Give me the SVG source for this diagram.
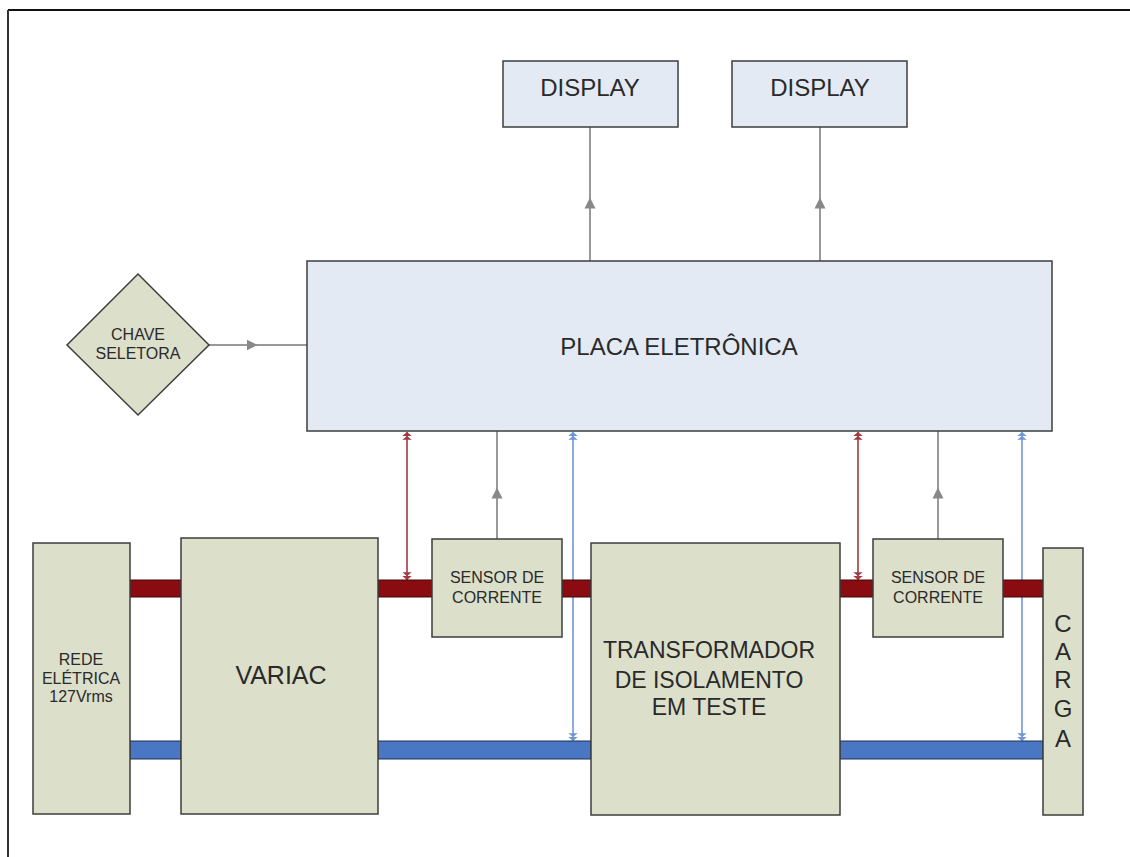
<svg xmlns="http://www.w3.org/2000/svg" width="1130" height="857" viewBox="0 0 1130 857">
<defs>
<style>
.blk{fill:#dcdfca;stroke:#3e3e3e;stroke-width:1.5}
.blu{fill:#e4eaf4;stroke:#3e3e3e;stroke-width:1.5}
.t{font-family:"Liberation Sans",Arial,sans-serif;fill:#2a2a2a;text-anchor:middle}
.gray{stroke:#999;stroke-width:2;fill:none}
.redl{stroke:#a23a40;stroke-width:1.6;fill:none}
.blul{stroke:#6f96d6;stroke-width:1.6;fill:none}
.rbar{fill:#8a0b10;stroke:#3a0a0a;stroke-width:1}
.bbar{fill:#4a77c4;stroke:#1e2f55;stroke-width:1}
</style>
<marker id="mg" viewBox="0 0 10 10" refX="5" refY="5" markerWidth="11" markerHeight="12" markerUnits="userSpaceOnUse" orient="auto">
<path d="M0,0 L10,5 L0,10 Z" fill="#888"/>
</marker>
<marker id="dr" viewBox="0 0 10 14" refX="10" refY="7" markerWidth="14" markerHeight="11" markerUnits="userSpaceOnUse" orient="auto-start-reverse">
<path d="M0,1 L5,7 L0,13 Z M5,1 L10,7 L5,13 Z" fill="#a23a40"/>
</marker>
<marker id="db" viewBox="0 0 10 14" refX="10" refY="7" markerWidth="14" markerHeight="11" markerUnits="userSpaceOnUse" orient="auto-start-reverse">
<path d="M0,1 L5,7 L0,13 Z M5,1 L10,7 L5,13 Z" fill="#6f96d6"/>
</marker>
</defs>
<rect width="1130" height="857" fill="#fff"/>
<g id="frame">
<line x1="8" y1="10" x2="1130" y2="10" stroke="#111" stroke-width="2"/>
<line x1="8" y1="10" x2="8" y2="857" stroke="#333" stroke-width="2"/>
</g>
<g id="connectors">
<polyline class="gray" points="590,261 590,203 590,127" marker-mid="url(#mg)"/>
<polyline class="gray" points="820,261 820,203 820,127" marker-mid="url(#mg)"/>
<polyline class="gray" points="209,345 252,345 307,345" marker-mid="url(#mg)"/>
<polyline class="gray" points="497,539 497,493 497,431" marker-mid="url(#mg)"/>
<polyline class="gray" points="938,539 938,493 938,431" marker-mid="url(#mg)"/>
<line class="redl" x1="407" y1="432" x2="407" y2="580" marker-start="url(#dr)" marker-end="url(#dr)"/>
<line class="redl" x1="858" y1="432" x2="858" y2="580" marker-start="url(#dr)" marker-end="url(#dr)"/>
<line class="blul" x1="573" y1="432" x2="573" y2="741" marker-start="url(#db)" marker-end="url(#db)"/>
<line class="blul" x1="1022" y1="432" x2="1022" y2="741" marker-start="url(#db)" marker-end="url(#db)"/>
<rect class="rbar" x="130" y="580" width="51" height="17"/>
<rect class="rbar" x="378" y="580" width="54" height="17"/>
<rect class="rbar" x="562" y="580" width="29" height="17"/>
<rect class="rbar" x="840" y="580" width="33" height="17"/>
<rect class="rbar" x="1003" y="580" width="40" height="17"/>
<rect class="bbar" x="130" y="741" width="51" height="18"/>
<rect class="bbar" x="378" y="741" width="213" height="18"/>
<rect class="bbar" x="840" y="741" width="203" height="18"/>
</g>
<g id="display1"><rect class="blu" x="503" y="61" width="175" height="66"/><text class="t" x="590" y="96" font-size="24">DISPLAY</text></g>
<g id="display2"><rect class="blu" x="732" y="61" width="175" height="66"/><text class="t" x="820" y="96" font-size="24">DISPLAY</text></g>
<g id="placa"><rect class="blu" x="307" y="261" width="745" height="170"/><text class="t" x="679" y="355" font-size="24">PLACA ELETRÔNICA</text></g>
<g id="chave"><polygon class="blk" points="138,274 209,345 138,415 67,345"/><text class="t" x="138" y="340" font-size="16">CHAVE</text><text class="t" x="138" y="359" font-size="16">SELETORA</text></g>
<g id="rede"><rect class="blk" x="33" y="543" width="97" height="271"/><text class="t" x="81" y="665" font-size="16">REDE</text><text class="t" x="81" y="684" font-size="16">ELÉTRICA</text><text class="t" x="81" y="702" font-size="16">127Vrms</text></g>
<g id="variac"><rect class="blk" x="181" y="538" width="197" height="276"/><text class="t" x="281" y="684" font-size="25">VARIAC</text></g>
<g id="sensor1"><rect class="blk" x="432" y="539" width="130" height="98"/><text class="t" x="497" y="583" font-size="16">SENSOR DE</text><text class="t" x="497" y="603" font-size="16">CORRENTE</text></g>
<g id="transformador"><rect class="blk" x="591" y="543" width="249" height="272"/><text class="t" x="709" y="658" font-size="23">TRANSFORMADOR</text><text class="t" x="709" y="688" font-size="23">DE ISOLAMENTO</text><text class="t" x="709" y="715" font-size="23">EM TESTE</text></g>
<g id="sensor2"><rect class="blk" x="873" y="539" width="130" height="98"/><text class="t" x="938" y="583" font-size="16">SENSOR DE</text><text class="t" x="938" y="603" font-size="16">CORRENTE</text></g>
<g id="carga"><rect class="blk" x="1043" y="548" width="40" height="267"/>
<text class="t" x="1063" y="632" font-size="24">C</text><text class="t" x="1063" y="660" font-size="24">A</text><text class="t" x="1063" y="688" font-size="24">R</text><text class="t" x="1063" y="717" font-size="24">G</text><text class="t" x="1063" y="747" font-size="24">A</text></g>
</svg>
